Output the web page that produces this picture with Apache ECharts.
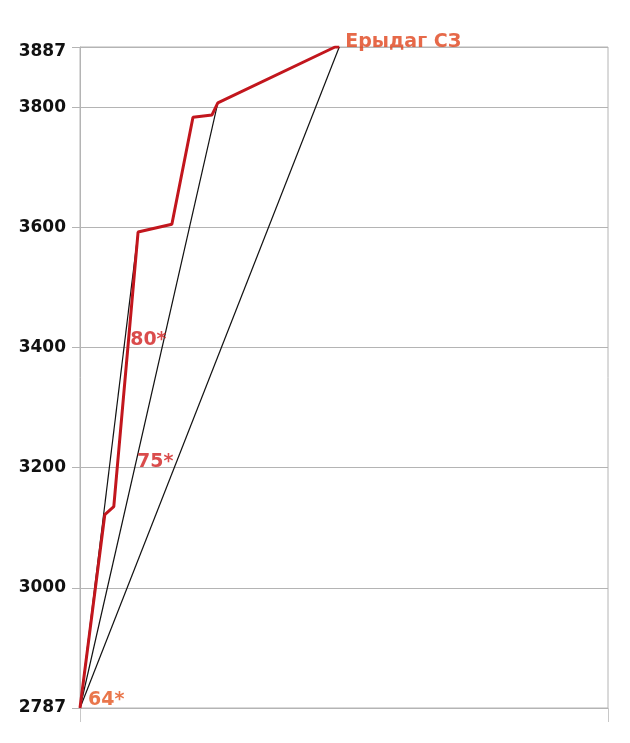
<!DOCTYPE html>
<html>
<head>
<meta charset="utf-8">
<script src="https://cdn.jsdelivr.net/npm/echarts@6/dist/echarts.min.js"></script>
<style>
html,body{margin:0;padding:0;background:#fff;}
#c{width:630px;height:743px;}
</style>
</head>
<body>
<div id="c"></div>
<script>
// Y axis: tick positions and their printed labels
const yTickValues = [2800, 3000, 3200, 3400, 3600, 3800, 3900];
const yTickLabels = ['2787', '3000', '3200', '3400', '3600', '3800', '3887'];

// Red profile (x: relative distance, y: elevation on the axis scale)
const profileX = [0, 4.7, 6.4, 11.0, 17.4, 21.4, 25.0, 26.1, 48.3, 49.1];
const profileY = [2800, 3122, 3135, 3592, 3605, 3783, 3787, 3807, 3900, 3900];

// Straight black sight lines from the origin point to these targets
const rayStartX = 0, rayStartY = 2800;
const rayEndX = [11.0, 26.1, 49.1];
const rayEndY = [3592, 3807, 3900];

// Annotations
const noteTexts = ['80*', '75*', '64*', 'Ерыдаг СЗ'];
const noteX = [9.5, 10.8, 0, 49.1];
const noteY = [3412, 3210, 2800, 3900];

const chart = echarts.init(document.getElementById('c'), null, {renderer: 'canvas'});

const raySeries = rayEndX.map((ex, i) => ({
  type: 'line',
  data: [[rayStartX, rayStartY], [ex, rayEndY[i]]],
  symbol: 'none',
  lineStyle: {color: '#111', width: 1.2},
  z: 3,
  silent: true
}));

const noteStyles = [
  {color: '#d11f1f', offset: [0, 0], distance: 0, fontSize: 19},
  {color: '#d11f1f', offset: [0, 0], distance: 0, fontSize: 19},
  {color: '#e4541e', offset: [8, -8], distance: 0, fontSize: 19},
  {color: '#e0441c', offset: [0, -5], distance: 6, fontSize: 19}
];

const option = {
  backgroundColor: '#fff',
  animation: false,
  grid: {left: 80, right: 22, top: 47, bottom: 35, show: true, borderColor: '#b4b4b4', borderWidth: 1},
  xAxis: {
    type: 'value', min: 0, max: 100, interval: 100,
    axisLine: {show: true, lineStyle: {color: '#b4b4b4'}},
    axisTick: {show: true, inside: false, length: 14, lineStyle: {color: '#c8c8c8'}},
    axisLabel: {show: false},
    splitLine: {show: false}
  },
  yAxis: {
    type: 'value', min: 2800, max: 3900, interval: 200,
    axisLine: {show: true, lineStyle: {color: '#b4b4b4'}},
    axisTick: {show: true, inside: false, length: 8, lineStyle: {color: '#b4b4b4'}},
    splitLine: {show: true, lineStyle: {color: '#b4b4b4', width: 1}},
    axisLabel: {
      margin: 14,
      fontFamily: 'DejaVu Sans', fontWeight: 'bold', fontSize: 17, color: '#111',
      formatter: function (v) {
        const i = yTickValues.indexOf(v);
        const t = i >= 0 ? yTickLabels[i] : '';
        return v === 3900 ? '{top|' + t + '}' : t;
      },
      rich: {top: {fontFamily: 'DejaVu Sans', fontWeight: 'bold', fontSize: 17, color: '#111', padding: [9, 0, 0, 0]}}
    }
  },
  series: [
    ...raySeries,
    {
      type: 'line',
      data: profileX.map((x, i) => [x, profileY[i]]),
      symbol: 'none',
      lineStyle: {color: '#c2161d', width: 3},
      z: 4,
      silent: true
    },
    {
      type: 'scatter',
      symbolSize: 0,
      z: 5,
      silent: true,
      data: noteTexts.map((t, i) => ({
        value: [noteX[i], noteY[i]],
        label: {
          show: true,
          position: 'right',
          distance: noteStyles[i].distance,
          offset: noteStyles[i].offset,
          formatter: t,
          color: noteStyles[i].color,
          fontFamily: 'DejaVu Sans',
          fontWeight: 'bold',
          fontSize: noteStyles[i].fontSize
        }
      }))
    }
  ]
};
chart.setOption(option);
</script>
</body>
</html>
